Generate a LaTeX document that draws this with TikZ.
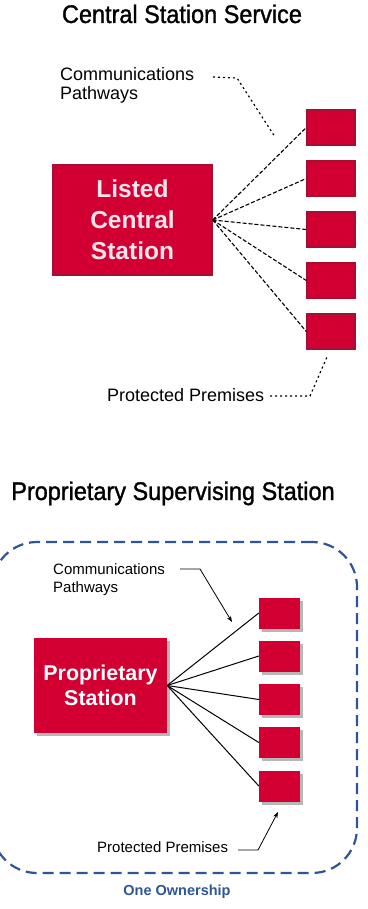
\documentclass[tikz,border=0pt]{standalone}
\usepackage{fontspec}
\setmainfont{Liberation Sans}
\newfontfamily\titlefont[FakeStretch=0.92,FakeBold=1.2]{Liberation Sans}
\usetikzlibrary{arrows.meta,shadows}
\definecolor{boxred}{RGB}{210,0,50}
\definecolor{edgered}{RGB}{165,15,50}
\definecolor{ownblue}{RGB}{47,85,151}
\definecolor{shadowgray}{RGB}{175,175,175}
\definecolor{paletext}{RGB}{255,228,236}
\begin{document}
\begin{tikzpicture}[x=1pt,y=-1pt,
  titletext/.style={font=\titlefont\fontsize{25.5}{28}\selectfont, anchor=base, inner sep=0},
  oldbox/.style={fill=boxred, draw=edgered, line width=1.4pt, inner sep=0},
  oldlabel/.style={font=\fontsize{18}{19.5}\selectfont, align=left, anchor=north west, inner sep=0},
  oldfan/.style={line width=1.1pt, dash pattern=on 4pt off 2pt},
  oldleader/.style={line width=1.2pt, dash pattern=on 2pt off 3pt},
  newbox/.style={fill=boxred, inner sep=0, drop shadow={shadow xshift=3pt, shadow yshift=-3pt, fill=shadowgray, opacity=0.9}},
  newlabel/.style={font=\fontsize{15}{18}\selectfont, align=left, inner sep=0},
  newfan/.style={line width=1pt},
  newleader/.style={line width=0.8pt},
  tip/.style={-{Stealth[length=6pt,width=4.5pt]}},
  ownframe/.style={draw=ownblue, line width=2.2pt, dash pattern=on 11pt off 6pt, rounded corners=45pt, inner sep=0}
]
\useasboundingbox (0,0) rectangle (367,909);

% ---------------- Central Station Service ----------------
\node[titletext] (t1) at (182,23) {Central Station Service};

\node[oldbox, minimum width=159pt, minimum height=110pt] (lcs) at (132.5,220) {};
\node[font=\bfseries\fontsize{24.5}{31}\selectfont, text=paletext, align=center, inner sep=0] (lcstext) at (lcs.center) {Listed\\Central\\Station};

\foreach \i/\yy in {1/127.5,2/178.5,3/229.5,4/280.5,5/331.5}{
  \node[oldbox, minimum width=48pt, minimum height=35pt] (o\i) at (331,\yy) {};
}
\foreach \i in {1,...,5}{
  \draw[oldfan] (lcs.east) -- (o\i.west);
}

\node[oldlabel] (ocp) at (60,67) {Communications\\Pathways};
\coordinate (ocpA) at (213,77);
\coordinate (ocpB) at (237,78);
\coordinate (ocpC) at (275,137);
\draw[oldleader] (ocpA) -- (ocpB) -- (ocpC);

\node[font=\fontsize{18}{20}\selectfont, anchor=base west, inner sep=0] (opp) at (107,401) {Protected Premises};
\coordinate (oppA) at (270,396);
\coordinate (oppB) at (310,396);
\coordinate (oppC) at (327,357);
\draw[oldleader] (oppA) -- (oppB) -- (oppC);

% ---------------- Proprietary Supervising Station ----------------
\node[titletext] (t2) at (173,500) {Proprietary Supervising Station};

\node[ownframe, minimum width=365pt, minimum height=331pt] (frame) at (174.5,707.5) {};

\node[newbox, minimum width=133pt, minimum height=95pt] (ps) at (100.5,685.5) {};
\node[font=\bfseries\fontsize{21.4}{25}\selectfont, text=white, align=center, inner sep=0] (pstext) at (ps.center) {Proprietary\\Station};

\foreach \i/\yy in {1/613,2/656,3/699.5,4/742.5,5/786}{
  \node[newbox, minimum width=41pt, minimum height=31pt] (n\i) at (279.5,\yy) {};
}
\foreach \i in {1,...,5}{
  \draw[newfan] (ps.east) -- (n\i.west);
}

\node[newlabel, anchor=north west] (ncp) at (53,563.5) {Communications\\Pathways};
\coordinate (ncpA) at (180,569);
\coordinate (ncpB) at (200,569);
\coordinate (ncpC) at (232,622);
\draw[newleader, tip] (ncpA) -- (ncpB) -- (ncpC);

\node[newlabel, anchor=base west] (npp) at (97,852) {Protected Premises};
\coordinate (nppA) at (238,850);
\coordinate (nppB) at (258,850);
\coordinate (nppC) at (278,812);
\draw[newleader, tip] (nppA) -- (nppB) -- (nppC);

\node[font=\bfseries\fontsize{14.5}{17}\selectfont, text=ownblue, anchor=base, inner sep=0] (own) at (177,895) {One Ownership};
\end{tikzpicture}
\end{document}
